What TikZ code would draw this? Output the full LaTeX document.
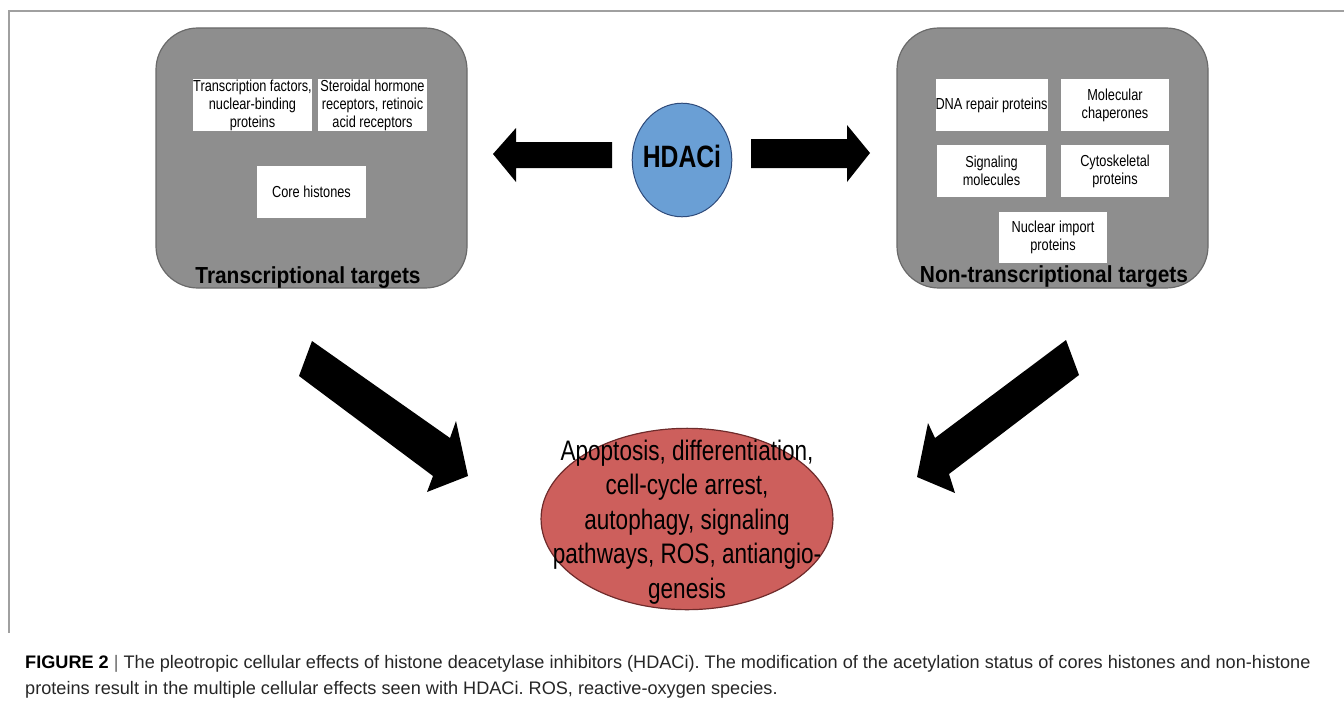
\documentclass[tikz,border=0pt]{standalone}
\usepackage{fontspec}
\setmainfont{Liberation Sans}
\newfontfamily\narrowfont[FakeStretch=0.8]{Liberation Sans}
\newfontfamily\titlefont[FakeStretch=0.9]{Liberation Sans}
\usepackage{tikz}
\usetikzlibrary{shapes.geometric}
\frenchspacing
\definecolor{boxgray}{HTML}{8E8E8E}
\definecolor{boxedge}{HTML}{6A6A6A}
\definecolor{hdacblue}{HTML}{6A9FD5}
\definecolor{hdacedge}{HTML}{2E4A7A}
\definecolor{effectred}{HTML}{CD5F5C}
\definecolor{effectedge}{HTML}{6E2B2B}
\definecolor{framegray}{HTML}{A0A0A0}
\tikzset{
	targetbox/.style={draw=boxedge, fill=boxgray, line width=1.2pt, rounded corners=42},
	innerbox/.style={fill=white, inner sep=0pt, minimum width=109, minimum height=52, align=center, font=\narrowfont\fontsize{16}{18}\selectfont},
	targettitle/.style={anchor=base, inner sep=0pt, font=\titlefont\bfseries\fontsize{23.3}{26}\selectfont},
	blockarrow/.style={fill=black}
}

\begin{document}
\begin{tikzpicture}[x=1bp, y=-1bp]
		%%%%% START %%%%%
		\useasboundingbox (0, 0) rectangle (1344, 701);
		
		\draw[line width=1.2pt, color=framegray] (1344, 11) -- (9, 11) -- (9, 633);
		
		% transcriptional targets
		\draw[targetbox] (156, 28) rectangle (467, 288);
		\node[innerbox] (tf) at (252.5, 105) {Transcription factors,\\nuclear-binding\\proteins};
		\node[innerbox] (shr) at (372.5, 105) {Steroidal hormone\\receptors, retinoic\\acid receptors};
		\node[innerbox] (core) at (311.5, 192) {Core histones};
		\node[targettitle] (ttitle) at (308, 283) {Transcriptional targets};
		
		% non-transcriptional targets
		\draw[targetbox] (897, 28) rectangle (1208, 288);
		\node[innerbox] (dna) at (991.5, 105) {DNA repair proteins};
		\node[innerbox] (chap) at (1115, 105) {Molecular\\chaperones};
		\node[innerbox] (sig) at (991.5, 171) {Signaling\\molecules};
		\node[innerbox] (cyto) at (1115, 171) {Cytoskeletal\\proteins};
		\node[innerbox] (nuc) at (1053, 237.5) {Nuclear import\\proteins};
		\node[targettitle] (ntitle) at (1054, 282) {Non-transcriptional targets};
		
		% HDACi
		\node[ellipse, draw=hdacedge, fill=hdacblue, line width=1pt, minimum width=100, minimum height=114, inner sep=0pt] (hdaci) at (682, 160) {};
		\node[font=\narrowfont\bfseries\fontsize{31}{34}\selectfont] (hdacitext) at ([yshift=4]hdaci.center) {HDACi};
		
		\fill[blockarrow] (612, 142) -- (516, 142) -- (516, 128) -- (493, 154) -- (516, 182) -- (516, 168) -- (612, 168) -- cycle;
		\fill[blockarrow] (751, 139) -- (847, 139) -- (847, 125) -- (870, 153) -- (847, 182) -- (847, 168) -- (751, 168) -- cycle;
		
		% effects
		\fill[blockarrow] (312, 341) -- (450, 438) -- (456, 421) -- (468, 476) -- (427, 492) -- (433, 476) -- (299, 376) -- cycle;
		\fill[blockarrow] (1066, 340) -- (1079, 375) -- (949, 474) -- (955, 493) -- (917, 477) -- (928, 423) -- (935, 438) -- cycle;
		
		\node[ellipse, draw=effectedge, fill=effectred, line width=1.2pt, minimum width=293, minimum height=182, inner sep=0pt] (effects) at (687, 519) {};
		\node[align=center, inner sep=0pt, font=\narrowfont\fontsize{28.3}{34.5}\selectfont] (effectstext) at ([yshift=-3]effects.center)
			{Apoptosis, differentiation,\\cell-cycle arrest,\\autophagy, signaling\\pathways, ROS, antiangio-\\genesis};
		
		% caption
		\node[anchor=base west, inner sep=0pt, align=left, color=black!85, font=\fontsize{18.2}{26}\selectfont] (caption) at (25, 694)
			{\textbf{\color{black}FIGURE 2} {\color{black!60}|} The pleotropic cellular effects of histone deacetylase inhibitors (HDACi). The modification of the acetylation status of cores histones and non-histone\\
			proteins result in the multiple cellular effects seen with HDACi. ROS, reactive-oxygen species.};
		
		%%%%% END %%%%%
	\end{tikzpicture}
\end{document}
